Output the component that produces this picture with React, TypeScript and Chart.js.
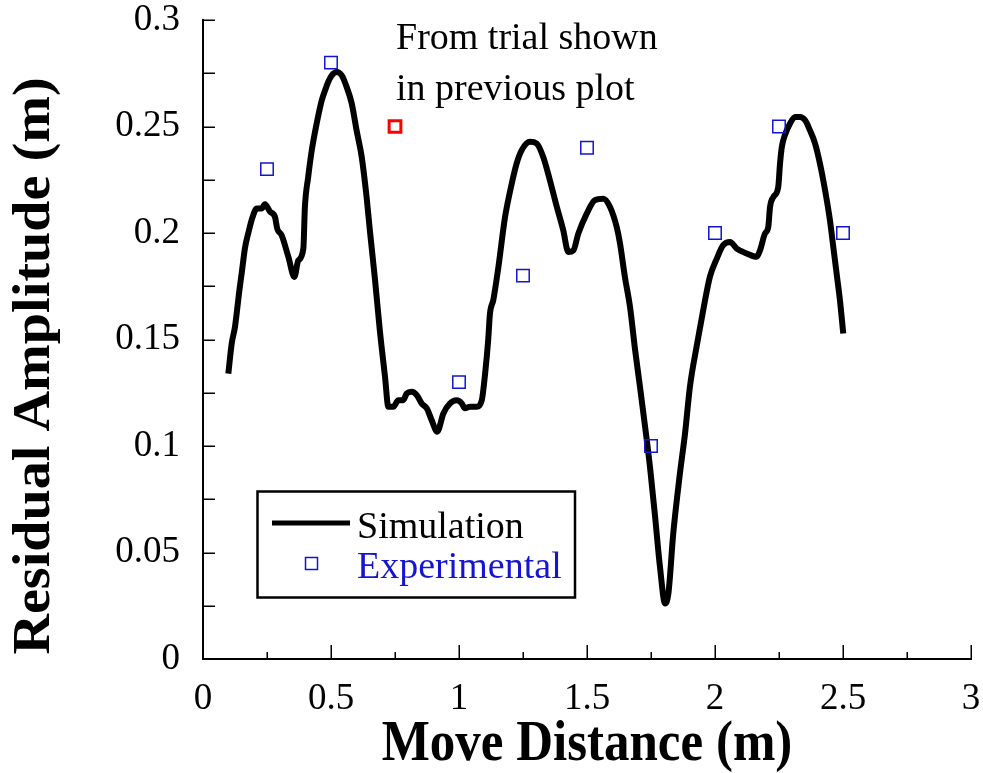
import { useEffect, useRef } from 'react';
import { Chart, registerables } from 'chart.js';

Chart.register(...registerables);

// Simulated residual amplitude along the move distance
const simDistance = [
  0.099, 0.112, 0.125, 0.142, 0.151, 0.164, 0.177, 0.194, 0.21, 0.229,
  0.242, 0.262, 0.281, 0.29, 0.307, 0.333, 0.357, 0.372, 0.392, 0.398,
  0.411, 0.425, 0.444, 0.464, 0.477, 0.489, 0.503, 0.522, 0.542, 0.561,
  0.581, 0.6, 0.62, 0.639, 0.652, 0.672, 0.691, 0.711, 0.724, 0.743,
  0.763, 0.782, 0.796, 0.815, 0.835, 0.854, 0.874, 0.893, 0.915, 0.939,
  0.965, 0.991, 1.011, 1.023, 1.043, 1.069, 1.089, 1.102, 1.114, 1.121,
  1.134, 1.154, 1.18, 1.206, 1.225, 1.245, 1.277, 1.304, 1.329, 1.355,
  1.382, 1.407, 1.427, 1.447, 1.466, 1.499, 1.531, 1.564, 1.59, 1.616,
  1.629, 1.648, 1.668, 1.688, 1.707, 1.727, 1.746, 1.766, 1.785, 1.805,
  1.818, 1.837, 1.863, 1.883, 1.902, 1.928, 1.954, 1.98, 2.007, 2.032,
  2.059, 2.085, 2.124, 2.163, 2.176, 2.195, 2.208, 2.215, 2.228, 2.247,
  2.254, 2.261, 2.273, 2.293, 2.313, 2.332, 2.352, 2.371, 2.391, 2.41,
  2.43, 2.449, 2.462, 2.475, 2.488, 2.501,
];
const simAmplitude = [
  0.134, 0.148, 0.156, 0.173, 0.181, 0.193, 0.2, 0.2076, 0.2115, 0.2115,
  0.2135, 0.21, 0.2076, 0.202, 0.199, 0.189, 0.1794, 0.187, 0.1927, 0.212,
  0.2264, 0.2389, 0.2514, 0.2623, 0.267, 0.2709, 0.274, 0.2756, 0.274, 0.2686,
  0.2608, 0.2482, 0.2357, 0.2169, 0.201, 0.178, 0.154, 0.1325, 0.1184, 0.1184,
  0.1215, 0.1215, 0.1247, 0.1255, 0.1239, 0.12, 0.1177, 0.1122, 0.1067, 0.1153,
  0.12, 0.1215, 0.12, 0.1177, 0.1184, 0.1184, 0.1215, 0.134, 0.1497, 0.1622,
  0.1685, 0.1841, 0.2076, 0.2232, 0.2326, 0.2389, 0.2428, 0.242, 0.2357, 0.2248,
  0.2123, 0.2014, 0.1911, 0.1919, 0.1997, 0.2091, 0.2154, 0.2161, 0.2122, 0.2028,
  0.1951, 0.1794, 0.1653, 0.145, 0.1278, 0.109, 0.0902, 0.0668, 0.0433, 0.0261,
  0.0308, 0.059, 0.0871, 0.1059, 0.1278, 0.1466, 0.1638, 0.1794, 0.188, 0.1943,
  0.1958, 0.1927, 0.1904, 0.1888, 0.1919, 0.1997, 0.2028, 0.2122, 0.2169, 0.2216,
  0.2326, 0.2404, 0.2459, 0.2514, 0.2545, 0.2545, 0.2529, 0.2482, 0.242, 0.2326,
  0.2201, 0.206, 0.1935, 0.181, 0.1685, 0.1528,
];

// Measured residual amplitudes
const expDistance = [0.25, 0.5, 1.0, 1.25, 1.5, 1.75, 2.0, 2.25, 2.5];
const expAmplitude = [0.23, 0.28, 0.13, 0.18, 0.24, 0.1, 0.2, 0.25, 0.2];

// The trial that was plotted separately
const trialDistance = [0.75];
const trialAmplitude = [0.25];

const seriesNames = ['Simulation', 'Experimental'];
const noteLines = ['From trial shown', 'in previous plot'];
const xTitle = 'Move Distance (m)';
const yTitle = 'Residual Amplitude (m)';

const SERIF = '"Liberation Serif", "Times New Roman", Times, serif';
const BLUE = '#1414d2';
const RED = '#ff0000';

const toPoints = (xs: number[], ys: number[]) => xs.map((x, i) => ({ x, y: ys[i] }));

const isMultiple = (v: number, step: number) =>
  Math.abs(v / step - Math.round(v / step)) < 1e-6;

// Inward tick marks, axis titles, the note and the boxed legend
const decorations = {
  id: 'decorations',
  afterDraw(chart: any) {
    const { ctx, chartArea: a, scales } = chart;
    const xs = scales.x;
    const ys = scales.y;
    ctx.save();

    ctx.strokeStyle = '#000';
    ctx.lineWidth = 1.5;
    ctx.beginPath();
    xs.ticks.forEach((t: any) => {
      const px = Math.round(xs.getPixelForValue(t.value)) + 0.25;
      const len = isMultiple(t.value, 0.5) ? 14 : 7;
      ctx.moveTo(px, a.bottom);
      ctx.lineTo(px, a.bottom - len);
    });
    ys.ticks.forEach((t: any) => {
      const py = Math.round(ys.getPixelForValue(t.value)) + 0.25;
      ctx.moveTo(a.left, py);
      ctx.lineTo(a.left + 12, py);
    });
    ctx.stroke();

    // axis titles
    ctx.fillStyle = '#000';
    ctx.textAlign = 'center';
    ctx.textBaseline = 'alphabetic';

    ctx.save();
    ctx.translate(49, 366);
    ctx.rotate(-Math.PI / 2);
    ctx.scale(1.08, 1);
    ctx.font = `bold 52px ${SERIF}`;
    ctx.fillText(yTitle, 0, 0);
    ctx.restore();

    ctx.save();
    ctx.translate((a.left + a.right) / 2, 760);
    ctx.scale(1, 1.1);
    ctx.font = `bold 51px ${SERIF}`;
    ctx.fillText(xTitle, 0, 0);
    ctx.restore();

    // note next to the highlighted trial
    ctx.textAlign = 'left';
    ctx.font = `38px ${SERIF}`;
    ctx.fillText(noteLines[0], 396, 49);
    ctx.fillText(noteLines[1], 396, 100);

    // legend box
    const sim = chart.data.datasets[2];
    const exp = chart.data.datasets[0];
    ctx.fillStyle = '#fff';
    ctx.fillRect(257.5, 491.5, 317.5, 106);
    ctx.strokeStyle = '#000';
    ctx.lineWidth = 2.5;
    ctx.strokeRect(257.5, 491.5, 317.5, 106);

    ctx.strokeStyle = sim.borderColor;
    ctx.lineWidth = 5;
    ctx.beginPath();
    ctx.moveTo(272, 523);
    ctx.lineTo(350, 523);
    ctx.stroke();

    ctx.strokeStyle = exp.pointBorderColor;
    ctx.lineWidth = 1.5;
    ctx.strokeRect(305.5, 557.5, 12, 12);

    ctx.font = `38px ${SERIF}`;
    ctx.fillStyle = '#000';
    ctx.fillText(seriesNames[0], 357, 538);
    ctx.fillStyle = exp.pointBorderColor;
    ctx.fillText(seriesNames[1], 357, 578);

    ctx.restore();
  },
};

export default function App() {
  const canvasRef = useRef<HTMLCanvasElement | null>(null);

  useEffect(() => {
    const canvas = canvasRef.current;
    if (!canvas) return;

    const tickFont = { family: SERIF, size: 37, lineHeight: 1 };

    const chart = new Chart(canvas, {
      type: 'scatter',
      data: {
        datasets: [
          {
            label: seriesNames[1],
            data: toPoints(expDistance, expAmplitude),
            pointStyle: 'rect',
            pointRadius: 8.8,
            pointBorderWidth: 1.5,
            pointBorderColor: BLUE,
            pointBackgroundColor: 'rgba(0,0,0,0)',
            showLine: false,
          },
          {
            label: 'Trial',
            data: toPoints(trialDistance, trialAmplitude),
            pointStyle: 'rect',
            pointRadius: 8.3,
            pointBorderWidth: 3,
            pointBorderColor: RED,
            pointBackgroundColor: 'rgba(0,0,0,0)',
            showLine: false,
          },
          {
            label: seriesNames[0],
            data: toPoints(simDistance, simAmplitude),
            showLine: true,
            borderColor: '#000',
            borderWidth: 6,
            borderJoinStyle: 'round',
            cubicInterpolationMode: 'monotone',
            pointRadius: 0,
            pointHoverRadius: 0,
          },
        ],
      } as any,
      options: {
        animation: false,
        responsive: false,
        devicePixelRatio: 1,
        events: [],
        layout: { padding: { left: 0, right: 12, top: 20, bottom: 0 } },
        plugins: {
          legend: { display: false },
          tooltip: { enabled: false },
        },
        scales: {
          x: {
            type: 'linear',
            position: 'bottom',
            min: 0,
            max: 3,
            grid: { display: false, drawTicks: false },
            border: { display: true, color: '#000', width: 2 },
            ticks: {
              stepSize: 0.25,
              autoSkip: false,
              maxRotation: 0,
              padding: 22,
              color: '#000',
              font: tickFont,
              callback: (v: any) => (isMultiple(Number(v), 0.5) ? String(+Number(v).toFixed(2)) : ''),
            },
            afterFit: (s: any) => {
              s.height = 114;
              s.paddingLeft = 0;
              s.paddingRight = 0;
            },
          },
          y: {
            type: 'linear',
            min: 0,
            max: 0.3,
            grid: { display: false, drawTicks: false },
            border: { display: true, color: '#000', width: 2 },
            ticks: {
              stepSize: 0.025,
              autoSkip: false,
              padding: 23,
              color: '#000',
              font: tickFont,
              callback: (v: any) => (isMultiple(Number(v), 0.05) ? String(+Number(v).toFixed(2)) : ''),
            },
            afterFit: (s: any) => {
              s.width = 203;
              s.paddingTop = 0;
              s.paddingBottom = 0;
            },
          },
        },
      } as any,
      plugins: [decorations],
    });

    return () => chart.destroy();
  }, []);

  return (
    <div style={{ position: 'absolute', left: 0, top: 0, width: 983, height: 773, background: '#fff' }}>
      <canvas ref={canvasRef} width={983} height={773} style={{ display: 'block' }} />
    </div>
  );
}
